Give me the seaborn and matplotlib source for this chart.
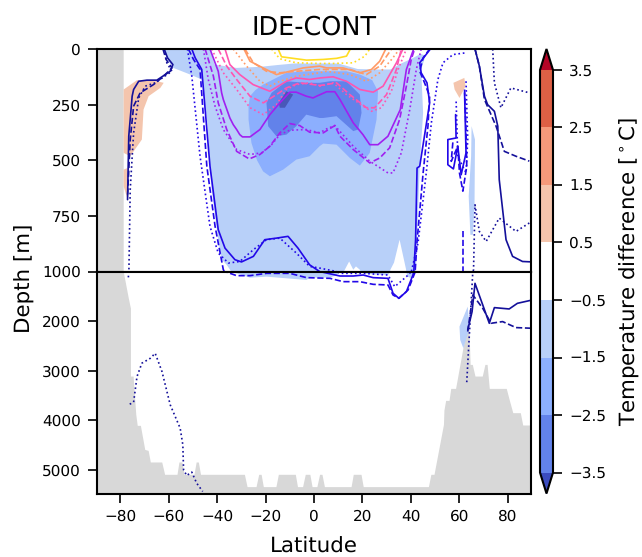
import numpy as np
import matplotlib
matplotlib.use("Agg")
import matplotlib.pyplot as plt
from matplotlib.colors import ListedColormap, BoundaryNorm
from matplotlib.cm import ScalarMappable
import seaborn as sns

sns.set_style("ticks")
plt.rcParams["font.family"] = ["DejaVu Sans"]
plt.rcParams["text.color"] = "black"
plt.rcParams["axes.labelcolor"] = "black"
plt.rcParams["xtick.color"] = "black"
plt.rcParams["ytick.color"] = "black"
plt.rcParams["axes.edgecolor"] = "black"
plt.rcParams["text.hinting"] = "none"

# ---------- data: (latitude, depth) ----------
land = [(-90,0),(-78.5,0),(-78.5,1000),(-76.4,1540),(-75.5,1750),(-75.5,3120),(-74.4,3120),(-73.3,3893),(-72.7,4115),(-71.4,4115),(-69.6,4600),(-68.2,4620),(-67.3,4854),(-62.6,4854),(-61.4,5103),(-56.3,5103),(-55.5,4854),(-54.3,4854),(-53.4,5103),(-49.3,5103),(-48.4,4854),(-47.5,4854),(-46.6,5103),(-28.5,5103),(-27.4,5351),(-23.7,5351),(-22.6,5103),(-21.6,5103),(-20.7,5351),(-15.5,5351),(-14.5,5103),(-7.5,5103),(-6.6,5351),(-4.5,5351),(-3.4,5103),(-1.5,5103),(-0.6,5351),(1.4,5351),(2.5,5103),(3.5,5103),(4.5,5351),(15.5,5351),(16.4,5103),(19.6,5103),(20.5,5351),(47.4,5351),(48.4,5103),(49.7,5103),(53.6,4095),(53.8,3806),(54.5,3611),(55.9,3611),(56.6,3369),(58.6,3369),(62.5,2314),(64.1,2146),(64.6,2885),(65.5,2885),(66.6,3120),(69.6,3120),(70.7,2885),(71.6,2885),(72.5,3369),(79.5,3369),(80.8,3611),(82.2,3859),(85.3,3859),(86.3,4108),(90,4108),(90,5500),(-90,5500)]

light_main = [(-62.5,0),(-43,0),(-41,70),(-32,85),(-22,80),(-15,72),(-8,65),(0,65),(10,65),(18,90),(25,92),(31.5,92),(36,65),(40,45),(44,22),(46,30),(44.2,92),(45,287),(43.6,527),(42.5,857),(42,1003),(40.1,1138),(38.5,1100),(38,992),(35.3,857),(33,960),(31.5,992),(30.5,1070),(25,1060),(21,1040),(18.9,992),(17.3,977),(16.2,992),(14.5,955),(12.7,992),(10,1040),(9.3,1071),(6.6,1124),(-1.65,1124),(-3.1,1171),(-19.6,1104),(-26.4,1124),(-36,970),(-38,947),(-39.5,857),(-42.2,632),(-44,332),(-46.3,137),(-51,115),(-58,85),(-60,55),(-62,7)]
light_north = [(65,347),(66.4,407),(66.2,707),(65.5,835),(64.5,835),(63.8,662),(64.8,482)]
light_arctic = [(60,2112),(63.4,1709),(64.1,2146),(61.6,2549),(60.3,2381)]
mid_blue = [(-26.4,212),(-24.2,185),(-21,160),(-11.4,107),(-3.2,100),(2.3,100),(6.6,100),(13.4,100),(19,115),(24,140),(26.4,190),(25.8,317),(23,467),(18.9,524),(14.8,490),(9.3,430),(3.8,425),(2.3,437),(-1.8,482),(-7.3,497),(-12.7,542),(-18.2,572),(-21,550),(-23.5,500),(-25.8,422),(-27,317),(-27,260)]
dark_blue = [(-19.6,242),(-17.5,197),(-11.4,145),(-3.2,152),(2.3,152),(6.6,145),(13.4,145),(18.9,205),(19.6,287),(18.2,362),(16.2,369),(9.3,302),(3.8,310),(2.3,310),(-3.2,295),(-7.3,347),(-11.4,385),(-15.5,392),(-18.9,347)]
darkest_blue = [(-14.5,242),(-11.4,190),(-8.6,205),(-12,264),(-14.1,264)]
warm_south = [(-78.5,182),(-73,140),(-64.8,145),(-62,152),(-63.4,175),(-68.2,212),(-70.3,272),(-71,407),(-75.8,482),(-78.5,467)]
warm_south2 = [(-78.5,542),(-76.9,535),(-76.9,677),(-78.5,617)]
warm_north = [(57.5,152),(62,130),(62.5,167),(60,220),(58,182)]

yellow_solid = [(-14.8,0),(-13.4,35),(-8.6,42),(-3.1,50),(3.8,47),(9.3,42),(13.4,32),(15,0)]
yellow_dotted = [(-17.5,0),(-14.1,44),(-7.3,62),(2.3,65),(7.9,65),(16.2,62),(21,32),(23,0)]
orange_solid = [(-28.9,0),(-26.4,55),(-21,85),(-15.5,115),(-10,100),(-4.5,85),(2.3,77),(5.2,85),(12,85),(18.9,107),(23.7,92),(27.1,55),(29.6,0)]
orange_dashed = [(-28.5,0),(-25,62),(-19.6,100),(-14.1,107),(-7.3,100),(2.3,92),(5.2,92),(14.8,92),(21.6,115),(27.1,77),(32,0)]
orange_dotted = [(-33.3,0),(-27.8,77),(-22.3,145),(-18.2,167),(-14.1,145),(-7.3,122),(2.3,107),(5.2,100),(14.8,115),(21.6,145),(27.1,107),(32,47),(35.3,0)]
pink_solid = [(-36.7,0),(-34.7,70),(-30.6,115),(-25.1,160),(-18.2,190),(-11.4,145),(-7.3,130),(-1.8,137),(2.5,130),(7.9,125),(13.4,145),(18.9,182),(24.4,194),(28.5,167),(34,62),(36.7,0)]
pink_dashed = [(-39.5,0),(-36,77),(-31.9,137),(-26.4,212),(-20.9,242),(-15.5,205),(-11.4,175),(-5.9,152),(2.5,164),(9.3,152),(14.8,205),(21.6,264),(25,264),(29.9,205),(34,92),(36,0)]
pink_dotted = [(-42.2,0),(-37.4,107),(-31.9,182),(-26.4,264),(-20.9,295),(-15.5,250),(-11.4,182),(-7.3,160),(-1.8,152),(2.5,167),(7.9,152),(13.4,205),(20.3,257),(23.7,280),(27.8,264),(31.9,190),(34.7,92),(38.1,0)]
purple_solid = [(-42.9,0),(-39.5,100),(-38.1,197),(-37.4,227),(-34.7,310),(-33.3,340),(-31.9,362),(-30.6,385),(-29.5,395),(-26.4,395),(-22.3,362),(-18.2,295),(-14.1,242),(-10,194),(-7.3,194),(-3.2,212),(-0.4,220),(1.1,212),(5.2,192),(8.6,192),(10.7,227),(16.2,332),(20.2,385),(23,430),(26.4,430),(30.5,392),(35.6,272),(38.1,92),(41.1,0)]
purple_dashed = [(-44.9,0),(-41.5,122),(-39.5,242),(-36,362),(-31.9,460),(-26.7,494),(-22.3,474),(-18.2,437),(-14.1,377),(-10,335),(-5.9,344),(-1.8,374),(3.8,377),(8.6,344),(10.7,392),(16.2,452),(23,512),(27.1,490),(31.2,444),(35.3,317),(38.1,167),(40.1,47),(41.5,0)]
purple_dotted = [(-45.6,0),(-43.6,137),(-40.8,257),(-37.4,362),(-31.9,452),(-26.4,474),(-21.6,467),(-17.5,430),(-14.1,385),(-10,365),(-3.2,362),(2.3,377),(5.2,359),(8.6,344),(10,362),(16.2,437),(23,504),(30.5,557),(32.6,557),(36,467),(39.5,272),(42.2,92),(44.2,0)]
blue_solid = [(-50.4,0),(-49,40),(-46.3,92),(-42.9,527),(-39.5,812),(-36.7,895),(-32.6,947),(-29.9,957),(-25,932),(-20.3,857),(-15.5,850),(-10.7,842),(-6.6,895),(-1.8,970),(2.3,1000),(10.7,1091),(16.2,1091),(20.3,1071),(24.4,1124),(30.5,1138),(32.6,1440),(35,1541),(38.1,1407),(40.8,1071),(41.9,857),(42.5,535),(43.6,527),(47.7,242),(46.6,152),(44.2,107),(43.6,62),(48,0)]
blue_dashed = [(-51.8,0),(-49.7,47),(-47,92),(-44.2,527),(-40.8,797),(-37.4,992),(-35.8,1017),(-31.9,1084),(-26.4,1084),(-19.6,1037),(-10,1037),(-3.1,1124),(6.6,1138),(12,1205),(18.9,1205),(24.4,1259),(30.5,1272),(32.6,1474),(35,1541),(38.8,1373),(41.5,1037),(42.5,865),(45,557),(47,347),(47.7,212),(45.6,152),(43.6,100),(45,40),(47.7,0)]
blue_dotted = [(-52.2,0),(-50.4,122),(-47,482),(-42.9,797),(-39.5,917),(-35.3,962),(-30.6,955),(-25,902),(-19.6,857),(-14.1,850),(-7.3,917),(-1.8,977),(2.5,985),(9.3,1000),(10.7,1037),(20.3,1037),(30.5,1071),(33.3,1306),(38.1,1104),(40.1,1003),(42.9,872),(46.3,557),(48.4,332),(51.1,137),(53.2,62),(57.3,25),(62.7,17)]
squiggle_solid = [(58.4,295),(58.6,400),(55.2,407),(55.2,520),(57.5,539),(59.3,437),(60.7,565),(62.7,467),(62.1,197)]
squiggle_dashed = [(62.1,182),(62.7,362),(63,527),(61.4,639),(60,557),(59.3,437),(56.6,505),(57.3,415)]
squiggle_dotted = [(62.7,145),(63.4,407),(62.7,557),(59.3,482),(58.6,227)]
short_dashed = [(61.4,820),(61.4,1000)]
navy_left_solid = [(-61.8,0),(-60.4,40),(-58.2,70),(-59.3,100),(-64.8,140),(-68.9,140),(-72.3,145),(-74.4,182),(-75,212),(-76.4,392),(-76.9,677)]
navy_left_dashed = [(-62.3,0),(-61,47),(-58.6,85),(-62,122),(-66.2,160),(-71.7,197),(-74.4,257),(-75.8,407),(-76.9,662)]
navy_left_dotted = [(-61.8,0),(-60.7,62),(-58.6,100),(-65.5,152),(-69.6,167),(-72.3,220),(-74.4,377),(-75.8,632),(-76.4,1037),(-76.7,1171)]
navy_deep_dotted = [(-76,3678),(-74.4,3638),(-73,3120),(-71,2851),(-67.5,2751),(-65.5,2650),(-62.7,3019),(-59.3,3691),(-55.2,4162),(-54.1,4498),(-53.8,5002),(-52.5,5116),(-50.4,5049),(-48.4,5271),(-45.9,5439)]
navy_right_solid = [(66.4,0),(68.2,77),(70.3,212),(71.6,250),(74.4,280),(75.8,347),(76.4,587),(79.2,857),(81.9,932),(86,955),(90,957)]
navy_right_solid2 = [(63.4,2179),(65.2,1810),(66.4,1239),(69.6,1675),(72.3,2045),(74.4,1729),(80.5,1756),(83.9,1642),(90,1575)]
navy_right_dashed = [(66.4,0),(68.2,77),(70.3,227),(75.1,347),(78.5,460),(83.3,482),(88.8,504)]
navy_right_dashed2 = [(63.4,2213),(65.5,1474),(69.6,1743),(73,2045),(77.8,2011),(83.3,2132),(90,2146)]
navy_right_dotted = [(73.7,0),(74.4,152),(77.1,264),(81.2,175),(88.8,197)]
navy_right_dotted2 = [(63,3234),(65.5,1003),(65.8,992),(66.4,700),(68.2,820),(71,865),(76.4,760),(83.3,820),(88.8,782)]

bounds = [-3.5, -2.5, -1.5, -0.5, 0.5, 1.5, 2.5, 3.5]
cbar_colors = ["#6282ea", "#8caffe", "#b8d0f9", "#ffffff", "#f4c5ad", "#f49a7b", "#dd6045"]
YELLOW, ORANGE, PINK, PURPLE, BLUE, NAVY = "#ffdd22", "#ff9a66", "#ff55b0", "#a020f0", "#2208e8", "#14109a"

fig = plt.figure(figsize=(6.42, 5.57), dpi=100)
W, H = 642, 557
ax_top = fig.add_axes([97/W, 1-271.5/H, 434/W, 222.5/H])
ax_bot = fig.add_axes([97/W, 1-493.5/H, 434/W, 222/H])

fills = [(land, "#d8d8d8"), (light_main, "#b8d0f9"), (light_north, "#b8d0f9"), (light_arctic, "#b8d0f9"),
         (mid_blue, "#8caffe"), (dark_blue, "#6282ea"), (darkest_blue, "#4858b8"),
         (warm_south, "#f4c5ad"), (warm_south2, "#f4c5ad"), (warm_north, "#f4c5ad")]
lines = [(yellow_solid, YELLOW, "-"), (yellow_dotted, YELLOW, ":"),
         (orange_solid, ORANGE, "-"), (orange_dashed, ORANGE, "--"), (orange_dotted, ORANGE, ":"),
         (pink_solid, PINK, "-"), (pink_dashed, PINK, "--"), (pink_dotted, PINK, ":"),
         (purple_solid, PURPLE, "-"), (purple_dashed, PURPLE, "--"), (purple_dotted, PURPLE, ":"),
         (blue_solid, BLUE, "-"), (blue_dashed, BLUE, "--"), (blue_dotted, BLUE, ":"),
         (squiggle_solid, BLUE, "-"), (squiggle_dashed, BLUE, "--"), (squiggle_dotted, BLUE, ":"), (short_dashed, BLUE, "--"),
         (navy_left_solid, NAVY, "-"), (navy_left_dashed, NAVY, "--"), (navy_left_dotted, NAVY, ":"), (navy_deep_dotted, NAVY, ":"),
         (navy_right_solid, NAVY, "-"), (navy_right_solid2, NAVY, "-"),
         (navy_right_dashed, NAVY, "--"), (navy_right_dashed2, NAVY, "--"),
         (navy_right_dotted, NAVY, ":"), (navy_right_dotted2, NAVY, ":")]

for ax in (ax_top, ax_bot):
    for pts, c in fills:
        arr = np.array(pts)
        ax.fill(arr[:, 0], arr[:, 1], color=c, lw=0)
    for pts, c, ls in lines:
        arr = np.array(pts)
        sns.lineplot(x=arr[:, 0], y=arr[:, 1], color=c, linestyle=ls, linewidth=1.2,
                     sort=False, estimator=None, errorbar=None, legend=False, ax=ax)
    ax.set_xlim(-89.5, 89.5)
    for s in ax.spines.values():
        s.set_linewidth(1.5)
    ax.set_xlabel("")
    ax.set_ylabel("")
    ax.tick_params(width=1.2, length=6.5, labelsize=11, pad=5)

ax_top.set_ylim(1000, 0)
ax_top.set_yticks([0, 250, 500, 750, 1000])
ax_top.set_xticks([])
ax_bot.set_ylim(5480, 1000)
ax_bot.set_yticks([2000, 3000, 4000, 5000])
ax_bot.set_xticks(np.arange(-80, 81, 20))

ax_top.set_title("IDE-CONT", fontsize=18.4, pad=10.5)
ax_bot.set_xlabel("Latitude", fontsize=15.4, labelpad=9)
fig.text(25/W, 1-278.5/H, "Depth [m]", rotation=90, fontsize=15.4, ha="center", va="center")

cax = fig.add_axes([540/W, 1-493.5/H, 13/W, 444.5/H])
cmap = ListedColormap(cbar_colors).with_extremes(under="#3b4cc0", over="#b40426")
sm = ScalarMappable(norm=BoundaryNorm(bounds, cmap.N), cmap=cmap)
cb = fig.colorbar(sm, cax=cax, extend="both", extendfrac=0.052, ticks=bounds, spacing="proportional")
cb.ax.tick_params(width=1.2, length=6.5, labelsize=11, pad=5)
cb.outline.set_linewidth(1.5)
cb.set_label(r"Temperature difference [$^\circ$C]", fontsize=15.4, labelpad=8.5)

fig.savefig("out.png", dpi=100)
